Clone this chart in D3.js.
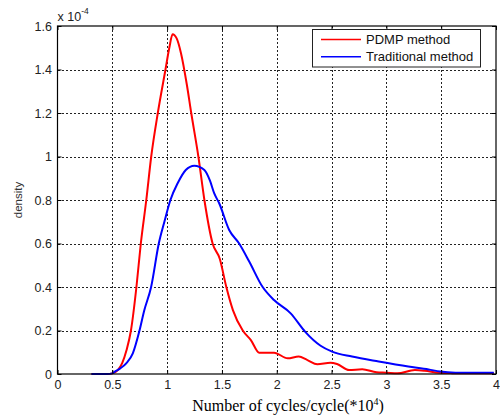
<!DOCTYPE html>
<html>
<head>
<meta charset="utf-8">
<script src="https://cdn.jsdelivr.net/npm/d3@7"></script>
<style>
  html, body { margin: 0; padding: 0; background: #fff; }
  svg { display: block; }
</style>
</head>
<body>
<svg id="chart" width="500" height="418"></svg>
<script>
// Density of the number of cycles (x in units of 10^4 cycles, y in units of 1e-4)
const pdmpX = [0.31, 0.45, 0.50, 0.55, 0.59, 0.63, 0.67, 0.72, 0.76, 0.81, 0.855, 0.915, 0.985, 1.02, 1.05, 1.087, 1.127, 1.18, 1.22, 1.285, 1.34, 1.415, 1.48, 1.54, 1.60, 1.69, 1.764, 1.84, 1.975, 2.10, 2.20, 2.28, 2.37, 2.49, 2.55, 2.66, 2.78, 2.91, 3.00, 3.10, 3.26, 3.35, 3.48, 3.60, 3.80, 3.98];
const pdmpY = [0, 0, 0.003, 0.018, 0.05, 0.11, 0.20, 0.40, 0.60, 0.80, 1.00, 1.20, 1.40, 1.50, 1.562, 1.543, 1.474, 1.33, 1.20, 1.00, 0.80, 0.60, 0.53, 0.40, 0.294, 0.20, 0.156, 0.098, 0.098, 0.072, 0.080, 0.064, 0.045, 0.052, 0.046, 0.018, 0.022, 0.008, 0.006, 0.003, 0.018, 0.015, 0.006, 0.004, 0.003, 0.003];

const tradX = [0.31, 0.45, 0.50, 0.52, 0.57, 0.627, 0.687, 0.748, 0.79, 0.854, 0.924, 0.975, 1.03, 1.096, 1.17, 1.248, 1.34, 1.39, 1.43, 1.475, 1.566, 1.657, 1.75, 1.87, 1.975, 2.127, 2.26, 2.40, 2.505, 2.687, 2.93, 3.20, 3.385, 3.49, 3.63, 3.98];
const tradY = [0, 0, 0.003, 0.01, 0.025, 0.049, 0.095, 0.20, 0.29, 0.40, 0.60, 0.70, 0.80, 0.877, 0.938, 0.958, 0.938, 0.89, 0.83, 0.785, 0.662, 0.60, 0.516, 0.401, 0.34, 0.279, 0.194, 0.13, 0.103, 0.080, 0.057, 0.034, 0.021, 0.011, 0.006, 0.006];

const xTicks = [0, 0.5, 1, 1.5, 2, 2.5, 3, 3.5, 4];
const yTicks = [0, 0.2, 0.4, 0.6, 0.8, 1, 1.2, 1.4, 1.6];
const seriesNames = ["PDMP method", "Traditional method"];
const seriesColors = ["#ff0000", "#0000ff"];

const svg = d3.select("#chart");
const plotL = 57.5, plotR = 496, plotT = 26, plotB = 374;

const x = d3.scaleLinear().domain([0, 4]).range([plotL, plotR]);
const y = d3.scaleLinear().domain([0, 1.6]).range([plotB, plotT]);

// grid (dotted)
const grid = svg.append("g").attr("stroke", "#222").attr("stroke-width", 1)
  .attr("stroke-dasharray", "2,2").attr("shape-rendering", "crispEdges");
grid.selectAll("line.v").data(xTicks.slice(1, -1)).join("line").attr("class", "v")
  .attr("x1", d => Math.round(x(d)) + 0.5).attr("x2", d => Math.round(x(d)) + 0.5)
  .attr("y1", plotT).attr("y2", plotB);
grid.selectAll("line.h").data(yTicks.slice(1, -1)).join("line").attr("class", "h")
  .attr("y1", d => Math.round(y(d)) + 0.5).attr("y2", d => Math.round(y(d)) + 0.5)
  .attr("x1", plotL).attr("x2", plotR);

// curves
const toPts = (xs, ys) => xs.map((v, i) => [v, ys[i]]);
const line = d3.line().x(d => x(d[0])).y(d => y(d[1])).curve(d3.curveMonotoneX);
[toPts(pdmpX, pdmpY), toPts(tradX, tradY)].forEach((pts, i) => {
  svg.append("path").datum(pts)
    .attr("d", line).attr("fill", "none")
    .attr("stroke", seriesColors[i]).attr("stroke-width", 2)
    .attr("stroke-linejoin", "round");
});

// axes
const fontAx = "'Liberation Sans', Arial, sans-serif";
const xAxis = d3.axisBottom(x).tickValues(xTicks).tickSize(-4).tickPadding(6)
  .tickFormat(d => String(d));
const yAxis = d3.axisLeft(y).tickValues(yTicks).tickSize(-4).tickPadding(5.5)
  .tickFormat(d => String(d));
const gx = svg.append("g").attr("transform", `translate(0,${plotB})`).call(xAxis);
const gy = svg.append("g").attr("transform", `translate(${plotL},0)`).call(yAxis);
[gx, gy].forEach(g => {
  g.select(".domain").remove();
  g.selectAll("line").attr("stroke", "#000");
  g.selectAll("text").attr("fill", "#222").style("font-family", fontAx).style("font-size", "12.5px");
});
// ticks on top and right borders
const gxt = svg.append("g").attr("transform", `translate(0,${plotT})`)
  .call(d3.axisTop(x).tickValues(xTicks).tickSize(-4).tickFormat(""));
const gyr = svg.append("g").attr("transform", `translate(${plotR},0)`)
  .call(d3.axisRight(y).tickValues(yTicks).tickSize(-4).tickFormat(""));
[gxt, gyr].forEach(g => { g.select(".domain").remove(); g.selectAll("line").attr("stroke", "#000"); });

// frame
svg.append("rect").attr("x", plotL).attr("y", plotT)
  .attr("width", plotR - plotL).attr("height", plotB - plotT)
  .attr("fill", "none").attr("stroke", "#000").attr("stroke-width", 1.2);

// exponent label
const ex = svg.append("text").attr("x", plotL).attr("y", 21)
  .attr("fill", "#222").style("font-family", fontAx).style("font-size", "12.5px");
ex.append("tspan").text("x 10");
ex.append("tspan").attr("dy", -7).style("font-size", "8.5px").text("-4");

// y-axis title
svg.append("text").attr("transform", "translate(22,200) rotate(-90)")
  .attr("text-anchor", "middle").attr("fill", "#333")
  .style("font-family", fontAx).style("font-size", "11.5px").text("density");

// x-axis title
const xt = svg.append("text").attr("x", 288).attr("y", 411).attr("text-anchor", "middle")
  .attr("fill", "#000").style("font-family", "'Liberation Serif', 'Times New Roman', serif")
  .style("font-size", "16px");
xt.append("tspan").text("Number of cycles/cycle(*10");
xt.append("tspan").attr("dy", -6).style("font-size", "10px").text("4");
xt.append("tspan").attr("dy", 6).text(")");

// legend
const lg = svg.append("g");
lg.append("rect").attr("x", 312.5).attr("y", 29.5).attr("width", 168).attr("height", 37.5)
  .attr("fill", "#fff").attr("stroke", "#222").attr("stroke-width", 1);
seriesNames.forEach((name, i) => {
  const yy = 39.5 + i * 17.3;
  lg.append("line").attr("x1", 321).attr("x2", 361).attr("y1", yy).attr("y2", yy)
    .attr("stroke", seriesColors[i]).attr("stroke-width", 1.5);
  lg.append("text").attr("x", 366).attr("y", yy + 4.5).attr("fill", "#111")
    .style("font-family", fontAx).style("font-size", "13px").text(name);
});
</script>
</body>
</html>
